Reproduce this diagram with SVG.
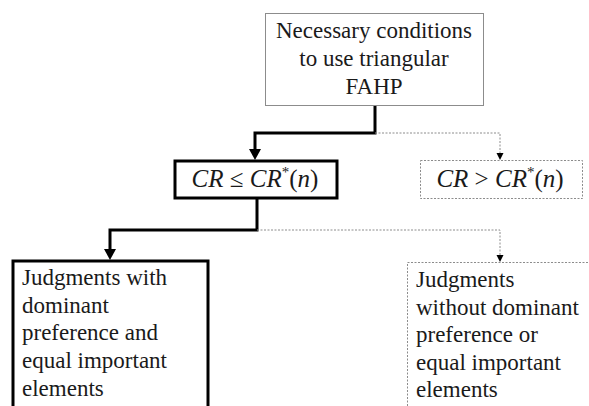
<svg xmlns="http://www.w3.org/2000/svg" width="589" height="406" viewBox="0 0 589 406" font-family="Liberation Serif, Times New Roman, serif">
<style>
.t{font-size:23px;fill:#1a1a1a}
.m{font-size:25px;fill:#1a1a1a}
.i{font-style:italic}
.thin{fill:#fff;stroke:#8c8c8c;stroke-width:1}
.bold{fill:#fff;stroke:#000;stroke-width:3}
.dot{fill:#fff;stroke:#8c8c8c;stroke-width:1;stroke-dasharray:2 1.5}
.cthick{fill:none;stroke:#000;stroke-width:3}
.cdot{fill:none;stroke:#8c8c8c;stroke-width:1;stroke-dasharray:2 1.5}
.ah{fill:#000}
</style>
<g id="connectors">
<path class="cthick" d="M375,105 V133 H255 V149"/>
<path class="cdot" d="M375,133 H500 V153"/>
<path class="cthick" d="M257,198 V230 H110 V249"/>
<path class="cdot" d="M257,230 H500 V255"/>
<path class="ah" d="M249,149 L261,149 L255,160 Z"/>
<path class="ah" d="M104,249 L116,249 L110,260 Z"/>
<path class="ah" d="M496.5,153 L503.5,153 L500,160 Z"/>
<path class="ah" d="M496.5,255 L503.5,255 L500,262 Z"/>
</g>
<g id="n1">
<rect class="thin" x="265.5" y="13.5" width="218" height="92"/>
<text class="t" x="374" y="38" text-anchor="middle">Necessary conditions</text>
<text class="t" x="374" y="66" text-anchor="middle">to use triangular</text>
<text class="t" x="374" y="94" text-anchor="middle">FAHP</text>
</g>
<g id="n2">
<rect class="bold" x="175" y="161" width="162" height="37"/>
<text class="m" x="255" y="187" text-anchor="middle"><tspan class="i">CR</tspan> ≤ <tspan class="i">CR</tspan><tspan font-size="15" dy="-10">*</tspan><tspan dy="10">(</tspan><tspan class="i">n</tspan>)</text>
</g>
<g id="n3">
<rect class="dot" x="420.5" y="160.5" width="162" height="38"/>
<text class="m" x="500" y="187" text-anchor="middle"><tspan class="i">CR</tspan> &gt; <tspan class="i">CR</tspan><tspan font-size="15" dy="-10">*</tspan><tspan dy="10">(</tspan><tspan class="i">n</tspan>)</text>
</g>
<g id="n4">
<rect class="bold" x="13" y="261" width="195" height="160"/>
<text class="t" x="22" y="285">Judgments with</text>
<text class="t" x="22" y="313">dominant</text>
<text class="t" x="22" y="340">preference and</text>
<text class="t" x="22" y="368">equal important</text>
<text class="t" x="22" y="396">elements</text>
</g>
<g id="n5">
<rect class="dot" x="407.5" y="262.5" width="190" height="160"/>
<text class="t" x="416" y="287">Judgments</text>
<text class="t" x="416" y="315">without dominant</text>
<text class="t" x="416" y="342">preference or</text>
<text class="t" x="416" y="370">equal important</text>
<text class="t" x="416" y="397">elements</text>
</g>
</svg>
